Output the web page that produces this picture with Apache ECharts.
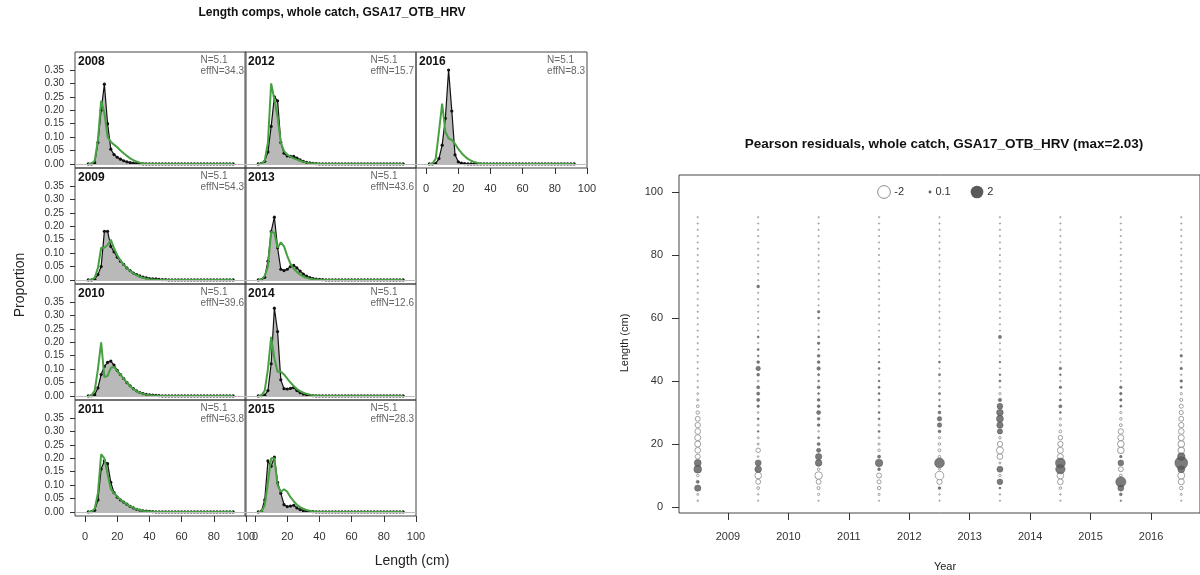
<!DOCTYPE html>
<html><head><meta charset="utf-8">
<script src="https://cdn.jsdelivr.net/npm/echarts@6/dist/echarts.min.js"></script>
<style>html,body{margin:0;padding:0;background:#fff}#c{width:1200px;height:575px}</style>
</head><body><div id="c"></div>
<script>
// ---------------- DATA ----------------
const lengthBins = [2,4,6,8,10,12,14,16,18,20,22,24,26,28,30,32,34,36,38,40,42,44,46,48,50,52,54,56,58,60,62,64,66,68,70,72,74,76,78,80,82,84,86,88,90,92];
const compYears = [2008,2009,2010,2011,2012,2013,2014,2015,2016];
const sampleN = [5.1,5.1,5.1,5.1,5.1,5.1,5.1,5.1,5.1];
const effN = [34.3,54.3,39.6,63.8,15.7,43.6,12.6,28.3,8.3];
const compXTicks = [0,20,40,60,80,100];
const compYTicks = [0,0.05,0.1,0.15,0.2,0.25,0.3,0.35];
const residXTicks = [2009,2010,2011,2012,2013,2014,2015,2016];
const residYTicks = [0,20,40,60,80,100];
const residLegend = [-2,0.1,2];

const obs2008 = [0,0,0.005,0.08,0.2,0.297,0.15,0.055,0.035,0.025,
0.018,0.012,0.008,0.005,0.003,0.002,0.001,0,0,0,
0,0,0,0,0,0,0,0,0,0, 0,0,0,0,0,0,0,0,0,0, 0,0,0,0,0,0];
const exp2008 = [0,0.001,0.012,0.09,0.235,0.19,0.1,0.083,0.072,0.062,
0.05,0.04,0.03,0.021,0.014,0.009,0.005,0.003,0.001,0,
0,0,0,0,0,0,0,0,0,0, 0,0,0,0,0,0,0,0,0,0, 0,0,0,0,0,0];
const obs2009 = [0,0,0.003,0.02,0.05,0.181,0.181,0.125,0.105,0.085,
0.07,0.058,0.045,0.035,0.026,0.02,0.015,0.011,0.008,0.005,
0.004,0.004,0.002,0.001,0.001,0,0,0,0,0, 0,0,0,0,0,0,0,0,0,0, 0,0,0,0,0,0];
const exp2009 = [0,0.001,0.008,0.045,0.12,0.12,0.13,0.15,0.118,0.092,
0.073,0.057,0.045,0.034,0.025,0.018,0.012,0.008,0.005,0.003,
0.002,0.001,0,0,0,0,0,0,0,0, 0,0,0,0,0,0,0,0,0,0, 0,0,0,0,0,0];
const obs2010 = [0,0.001,0.005,0.03,0.08,0.11,0.125,0.13,0.115,0.095,
0.08,0.065,0.05,0.038,0.027,0.019,0.013,0.009,0.006,0.004,
0.003,0.002,0.001,0,0,0,0,0,0,0, 0,0,0,0,0,0,0,0,0,0, 0,0,0,0,0,0];
const exp2010 = [0,0.002,0.02,0.1,0.2,0.07,0.075,0.105,0.108,0.093,
0.079,0.065,0.05,0.037,0.026,0.018,0.012,0.008,0.005,0.003,
0.002,0.001,0,0,0,0,0,0,0,0, 0,0,0,0,0,0,0,0,0,0, 0,0,0,0,0,0];
const obs2011 = [0,0.001,0.006,0.045,0.16,0.19,0.18,0.11,0.072,0.055,
0.045,0.037,0.029,0.021,0.015,0.01,0.007,0.004,0.003,0.002,
0.001,0,0,0,0,0,0,0,0,0, 0,0,0,0,0,0,0,0,0,0, 0,0,0,0,0,0];
const exp2011 = [0,0.002,0.012,0.07,0.215,0.2,0.14,0.085,0.07,0.057,
0.046,0.037,0.029,0.021,0.015,0.01,0.007,0.004,0.003,0.002,
0.001,0,0,0,0,0,0,0,0,0, 0,0,0,0,0,0,0,0,0,0, 0,0,0,0,0,0];
const obs2012 = [0,0.002,0.01,0.045,0.14,0.25,0.235,0.08,0.04,0.03,
0.028,0.028,0.022,0.015,0.01,0.006,0.004,0.002,0.001,0,
0,0,0,0,0,0,0,0,0,0, 0,0,0,0,0,0,0,0,0,0, 0,0,0,0,0,0];
const exp2012 = [0,0.002,0.012,0.08,0.3,0.24,0.175,0.08,0.048,0.035,
0.027,0.021,0.016,0.012,0.008,0.005,0.003,0.002,0.001,0,
0,0,0,0,0,0,0,0,0,0, 0,0,0,0,0,0,0,0,0,0, 0,0,0,0,0,0];
const obs2013 = [0,0.001,0.01,0.07,0.18,0.234,0.12,0.04,0.035,0.04,
0.05,0.054,0.045,0.033,0.022,0.014,0.009,0.005,0.003,0.002,
0.001,0,0,0,0,0,0,0,0,0, 0,0,0,0,0,0,0,0,0,0, 0,0,0,0,0,0];
const exp2013 = [0,0.002,0.015,0.05,0.18,0.175,0.12,0.14,0.125,0.09,
0.06,0.042,0.03,0.02,0.013,0.008,0.005,0.003,0.002,0.001,
0,0,0,0,0,0,0,0,0,0, 0,0,0,0,0,0,0,0,0,0, 0,0,0,0,0,0];
const obs2014 = [0,0.001,0.003,0.02,0.12,0.327,0.24,0.06,0.027,0.026,
0.028,0.031,0.02,0.012,0.007,0.004,0.002,0.001,0,0,
0,0,0,0,0,0,0,0,0,0, 0,0,0,0,0,0,0,0,0,0, 0,0,0,0,0,0];
const exp2014 = [0,0.002,0.02,0.1,0.22,0.14,0.09,0.09,0.08,0.065,
0.05,0.037,0.026,0.018,0.012,0.008,0.005,0.003,0.002,0.001,
0,0,0,0,0,0,0,0,0,0, 0,0,0,0,0,0,0,0,0,0, 0,0,0,0,0,0];
const obs2015 = [0,0.003,0.045,0.19,0.17,0.204,0.11,0.07,0.027,0.02,
0.022,0.025,0.015,0.009,0.005,0.003,0.002,0.001,0,0,
0,0,0,0,0,0,0,0,0,0, 0,0,0,0,0,0,0,0,0,0, 0,0,0,0,0,0];
const exp2015 = [0,0.002,0.025,0.11,0.2,0.2,0.1,0.075,0.085,0.075,
0.055,0.04,0.027,0.018,0.012,0.007,0.004,0.002,0.001,0,
0,0,0,0,0,0,0,0,0,0, 0,0,0,0,0,0,0,0,0,0, 0,0,0,0,0,0];
const obs2016 = [0,0,0.002,0.02,0.07,0.17,0.35,0.197,0.034,0.008,
0.003,0.001,0,0,0,0,0,0,0,0,
0,0,0,0,0,0,0,0,0,0, 0,0,0,0,0,0,0,0,0,0, 0,0,0,0,0,0];
const exp2016 = [0,0.002,0.02,0.12,0.225,0.12,0.095,0.09,0.075,0.056,
0.041,0.029,0.019,0.012,0.007,0.004,0.002,0.001,0,0,
0,0,0,0,0,0,0,0,0,0, 0,0,0,0,0,0,0,0,0,0, 0,0,0,0,0,0];

const resid2008 = [-0.03,-0.05,0.5,0.12,-0.08,0.75,0.6,-0.3,-0.4,-0.45,
-0.45,-0.4,-0.35,-0.3,-0.15,-0.1,-0.06,-0.04,-0.03,-0.02,
-0.02,-0.02,-0.02,-0.02,-0.02,-0.02,-0.02,-0.02,-0.02,-0.02,
-0.02,-0.02,-0.02,-0.02,-0.02,-0.02,-0.02,-0.02,-0.02,-0.02,
-0.02,-0.02,-0.02,-0.02,-0.02,-0.02];
const resid2009 = [-0.02,-0.03,-0.1,-0.3,-0.55,0.55,0.45,-0.04,-0.25,-0.05,
-0.05,0.04,-0.05,0.05,-0.04,0.08,0.12,0.12,0.12,-0.04,
0.1,0.25,0.1,0.04,0.06,-0.02,0.05,-0.02,-0.02,-0.02,
-0.02,-0.02,-0.02,-0.02,0.1,-0.02,-0.02,-0.02,-0.02,-0.02,
-0.02,-0.02,-0.02,-0.02,-0.02,-0.02];
const resid2010 = [-0.02,-0.06,-0.12,-0.3,-0.7,-0.08,0.55,0.5,0.22,0.12,
0.05,-0.03,0.1,0.1,0.2,0.1,0.1,0.05,0.1,0.04,
0.06,0.15,0.1,0.1,0.03,0.08,0.05,-0.02,-0.02,0.05,
0.08,-0.02,-0.02,-0.02,-0.02,-0.02,-0.02,-0.02,-0.02,-0.02,
-0.02,-0.02,-0.02,-0.02,-0.02,-0.02];
const resid2011 = [-0.02,-0.06,-0.15,-0.2,-0.3,0.1,0.7,0.12,-0.08,-0.06,
-0.05,0.05,-0.05,0.05,0.05,-0.04,0.05,0.05,0.06,0.04,
-0.03,0.05,0.04,-0.02,0.03,-0.02,-0.02,-0.02,-0.02,-0.02,
-0.02,-0.02,-0.02,-0.02,-0.02,-0.02,-0.02,-0.02,-0.02,-0.02,
-0.02,-0.02,-0.02,-0.02,-0.02,-0.02];
const resid2012 = [-0.02,-0.03,0.1,-0.35,-0.9,-0.05,1.2,-0.08,-0.1,-0.08,
-0.06,0.1,0.25,0.25,0.1,0.06,0.03,0.06,-0.03,-0.03,
0.06,-0.02,0.05,-0.02,-0.02,-0.02,-0.02,-0.02,-0.02,-0.02,
-0.02,-0.02,-0.02,-0.02,-0.02,-0.02,-0.02,-0.02,-0.02,-0.02,
-0.02,-0.02,-0.02,-0.02,-0.02,-0.02];
const resid2013 = [-0.02,-0.03,0.05,0.4,-0.08,0.45,-0.05,-0.4,-0.6,-0.35,
-0.08,0.35,0.5,0.6,0.55,0.4,0.15,-0.06,-0.03,0.06,
0.04,-0.02,0.04,-0.02,-0.02,-0.02,0.12,-0.02,-0.02,-0.02,
-0.02,-0.02,-0.02,-0.02,-0.02,-0.02,-0.02,-0.02,-0.02,-0.02,
-0.02,-0.02,-0.02,-0.02,-0.02,-0.02];
const resid2014 = [-0.02,-0.03,-0.08,-0.4,-0.55,1.1,1.2,-0.45,-0.45,-0.35,
-0.25,-0.1,-0.06,-0.06,0.05,0.12,0.05,-0.03,0.08,-0.02,
0.04,0.08,-0.02,-0.02,-0.02,-0.02,-0.02,-0.02,-0.02,-0.02,
-0.02,-0.02,-0.02,-0.02,-0.02,-0.02,-0.02,-0.02,-0.02,-0.02,
-0.02,-0.02,-0.02,-0.02,-0.02,-0.02];
const resid2015 = [0.03,0.1,0.45,1.3,-0.1,-0.3,0.4,0.08,-0.5,-0.55,
-0.45,-0.35,-0.1,-0.08,-0.06,0.06,0.08,0.08,0.08,-0.02,
-0.02,-0.02,-0.02,-0.02,-0.02,-0.02,-0.02,-0.02,-0.02,-0.02,
-0.02,-0.02,-0.02,-0.02,-0.02,-0.02,-0.02,-0.02,-0.02,-0.02,
-0.02,-0.02,-0.02,-0.02,-0.02,-0.02];
const resid2016 = [-0.02,-0.05,-0.15,-0.45,-0.6,0.6,2.03,0.7,-0.5,-0.5,
-0.45,-0.4,-0.35,-0.3,-0.22,-0.2,-0.12,-0.06,0.06,0.08,
-0.03,0.08,-0.02,0.08,-0.02,-0.02,-0.02,-0.02,-0.02,-0.02,
-0.02,-0.02,-0.02,-0.02,-0.02,-0.02,-0.02,-0.02,-0.02,-0.02,
-0.02,-0.02,-0.02,-0.02,-0.02,-0.02];

const obsByYear = [obs2008,obs2009,obs2010,obs2011,obs2012,obs2013,obs2014,obs2015,obs2016];
const expByYear = [exp2008,exp2009,exp2010,exp2011,exp2012,exp2013,exp2014,exp2015,exp2016];
const residByYear = [resid2008,resid2009,resid2010,resid2011,resid2012,resid2013,resid2014,resid2015,resid2016];

// ---------------- LAYOUT ----------------
const FONT = "'Liberation Sans', Arial, sans-serif";
const colLeft = [75, 245, 416], colW = 171;
const rowTop = [52, 168, 284, 400], rowH = 116;
const panelCell = [[0,0],[0,1],[0,2],[0,3],[1,0],[1,1],[1,2],[1,3],[2,0]];
const bottomPanels = [3, 7, 8];
const GREEN = '#47a142';
const bubbleK = 9;
const bSize = z => bubbleK * Math.sqrt(Math.abs(z));

const grids = [], xAxes = [], yAxes = [], series = [], graphics = [];

compYears.forEach((yr, i) => {
  const [c, r] = panelCell[i];
  const left = colLeft[c], top = rowTop[r];
  const isBottom = bottomPanels.includes(i);
  grids.push({left, top, width: colW, height: rowH, show: true, borderColor: '#444', borderWidth: 1, containLabel: false});
  xAxes.push({type: 'value', gridIndex: i, min: -6.25, max: 100, position: 'bottom',
    axisLine: {show: false, onZero: false}, splitLine: {show: false},
    axisTick: {show: isBottom, customValues: compXTicks, length: 6, lineStyle: {color: '#333'}},
    axisLabel: {show: isBottom, customValues: compXTicks, formatter: v => String(v), fontSize: 11, color: '#333', margin: 15, fontFamily: FONT}});
  yAxes.push({type: 'value', gridIndex: i, min: -0.015, max: 0.417, position: 'left',
    axisLine: {show: false, onZero: false}, splitLine: {show: false},
    axisTick: {show: c === 0, customValues: compYTicks, length: 5, lineStyle: {color: '#333'}},
    axisLabel: {show: c === 0, customValues: compYTicks, formatter: v => v.toFixed(2), fontSize: 10, color: '#333', margin: 11, fontFamily: FONT}});
  series.push({type: 'line', xAxisIndex: i, yAxisIndex: i, z: 2,
    data: lengthBins.map((b, j) => [b, obsByYear[i][j]]),
    symbol: 'circle', symbolSize: 3.2, showSymbol: true,
    itemStyle: {color: '#111'}, lineStyle: {color: '#111', width: 1.2},
    areaStyle: {color: '#b9b9b9', opacity: 1, origin: 0},
    markLine: {silent: true, symbol: 'none', label: {show: false}, lineStyle: {color: '#bbb', width: 1, type: 'solid'}, data: [{yAxis: 0}]}});
  series.push({type: 'line', xAxisIndex: i, yAxisIndex: i, z: 3,
    data: lengthBins.map((b, j) => [b, expByYear[i][j]]),
    symbol: 'none', lineStyle: {color: GREEN, width: 2}});
  graphics.push({type: 'text', left: left + 3, top: top + 4, style: {text: String(yr), font: 'bold 12px ' + FONT, fill: '#111'}});
  graphics.push({type: 'text', right: 1200 - (left + colW) + 2, top: top + 3, style: {text: 'N=' + sampleN[i] + '\neffN=' + effN[i], font: '10px ' + FONT, fill: '#666', align: 'right', lineHeight: 11}});
});

// bubble panel
const bi = compYears.length;
grids.push({left: 679, top: 175, width: 530, height: 338, show: true, borderColor: '#444', borderWidth: 1});
xAxes.push({type: 'value', gridIndex: bi, min: 2008.19, max: 2016.81, position: 'bottom',
  axisLine: {show: false, onZero: false}, splitLine: {show: false},
  axisTick: {customValues: residXTicks, length: 7, lineStyle: {color: '#333'}},
  axisLabel: {customValues: residXTicks, formatter: v => String(v), fontSize: 11, color: '#333', margin: 18, fontFamily: FONT}});
yAxes.push({type: 'value', gridIndex: bi, min: -1.9, max: 105.4, position: 'left',
  axisLine: {show: false, onZero: false}, splitLine: {show: false},
  axisTick: {customValues: residYTicks, length: 7, lineStyle: {color: '#333'}},
  axisLabel: {customValues: residYTicks, formatter: v => String(v), fontSize: 11, color: '#333', margin: 16, fontFamily: FONT}});
const posPts = [], negPts = [];
compYears.forEach((yr, i) => {
  lengthBins.forEach((b, j) => {
    const z = residByYear[i][j];
    (z >= 0 ? posPts : negPts).push([yr + 0.5, b, z]);
  });
});
series.push({type: 'scatter', xAxisIndex: bi, yAxisIndex: bi, data: negPts, z: 3,
  symbolSize: d => bSize(d[2]), itemStyle: {color: '#fff', borderColor: '#8a8a8a', borderWidth: 1}});
series.push({type: 'scatter', xAxisIndex: bi, yAxisIndex: bi, data: posPts, z: 4,
  symbolSize: d => bSize(d[2]), itemStyle: {color: '#5a5a5a', borderColor: '#444', borderWidth: 0.5}});

// legend for bubbles
const legX = [884, 930, 977], legY = 192;
residLegend.forEach((z, k) => {
  const r = bSize(z) / 2;
  graphics.push({type: 'circle', shape: {cx: legX[k], cy: legY, r: r},
    style: z < 0 ? {fill: '#fff', stroke: '#8a8a8a', lineWidth: 1} : {fill: '#5a5a5a'}});
  graphics.push({type: 'text', x: legX[k] + r + 4, y: legY, style: {text: String(z), font: '11px ' + FONT, fill: '#333', verticalAlign: 'middle'}});
});

// titles & axis names
graphics.push({type: 'text', x: 332, y: 13, style: {text: 'Length comps, whole catch, GSA17_OTB_HRV', font: 'bold 12px ' + FONT, fill: '#111', align: 'center', verticalAlign: 'middle'}});
graphics.push({type: 'text', x: 944, y: 144, style: {text: 'Pearson residuals, whole catch, GSA17_OTB_HRV (max=2.03)', font: 'bold 13.5px ' + FONT, fill: '#111', align: 'center', verticalAlign: 'middle'}});
graphics.push({type: 'text', x: 20, y: 285, rotation: Math.PI / 2, style: {text: 'Proportion', font: '14px ' + FONT, fill: '#222', align: 'center', verticalAlign: 'middle'}});
graphics.push({type: 'text', x: 412, y: 561, style: {text: 'Length (cm)', font: '14px ' + FONT, fill: '#222', align: 'center', verticalAlign: 'middle'}});
graphics.push({type: 'text', x: 625, y: 343, rotation: Math.PI / 2, style: {text: 'Length (cm)', font: '11px ' + FONT, fill: '#222', align: 'center', verticalAlign: 'middle'}});
graphics.push({type: 'text', x: 945, y: 567, style: {text: 'Year', font: '11px ' + FONT, fill: '#222', align: 'center', verticalAlign: 'middle'}});

const chart = echarts.init(document.getElementById('c'), null, {renderer: 'canvas'});
chart.setOption({
  animation: false, backgroundColor: '#fff',
  grid: grids, xAxis: xAxes, yAxis: yAxes, series: series, graphic: graphics
});
</script></body></html>
